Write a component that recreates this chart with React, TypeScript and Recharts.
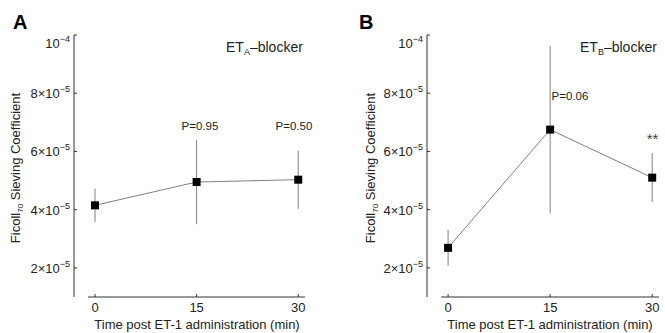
import { ComposedChart, Line, XAxis, YAxis, ErrorBar, ReferenceLine } from 'recharts';

const timePoints = [0, 15, 30];
const etaMean = [4.15e-5, 4.95e-5, 5.03e-5];
const etaErr = [0.57e-5, 1.45e-5, 1.0e-5];
const etbMean = [2.69e-5, 6.75e-5, 5.1e-5];
const etbErr = [0.62e-5, 2.88e-5, 0.84e-5];

const xTicks = [0, 15, 30];
const yTicks = [2e-5, 4e-5, 6e-5, 8e-5, 1e-4];
const yTickMantissa = ['2×10', '4×10', '6×10', '8×10', '10'];
const yTickExponent = ['−5', '−5', '−5', '−5', '−4'];

const FONT = '"Liberation Sans", Arial, Helvetica, sans-serif';
const AXIS = '#333333';
const GREY = '#808080';

const etaData = timePoints.map((t, i) => ({ t, mean: etaMean[i], err: etaErr[i] }));
const etbData = timePoints.map((t, i) => ({ t, mean: etbMean[i], err: etbErr[i] }));

function XTick(props: any) {
  const { x, y, payload } = props;
  return (
    <g>
      <line x1={x} y1={y} x2={x} y2={y - 3} stroke={AXIS} />
      <text x={x} y={y + 15} textAnchor="middle" fontSize={13} fontFamily={FONT} fill="#222">
        {payload.value}
      </text>
    </g>
  );
}

function YTick(props: any) {
  const { x, y, payload } = props;
  const i = yTicks.indexOf(payload.value);
  // top label sits a little lower than its tick, as in the original
  const shift = i === yTicks.length - 1 ? 8 : 0;
  return (
    <g>
      <line x1={x} y1={y} x2={x + 3} y2={y} stroke={AXIS} />
      <text x={x - 4} y={y + 5 + shift} textAnchor="end" fontSize={13} fontFamily={FONT} fill="#222">
        {yTickMantissa[i]}
        <tspan fontSize={9} dy={-6}>{yTickExponent[i]}</tspan>
      </text>
    </g>
  );
}

function SquareDot(props: any) {
  const { cx, cy } = props;
  if (cx == null || cy == null) return null;
  return <rect x={cx - 4} y={cy - 4} width={8} height={8} fill="#000" />;
}

function Panel({ data, width, yWidth, right, letter, letterX, labelX, titleX, xTitleX, sub, children }: any) {
  return (
    <ComposedChart width={width} height={333} data={data} margin={{ top: 35, right, left: 0, bottom: 0 }}>
      <XAxis
        dataKey="t"
        type="number"
        domain={[-3.1, 31]}
        ticks={xTicks}
        axisLine={false}
        tickLine={false}
        tickSize={0}
        tickMargin={0}
        height={36}
        tick={<XTick />}
        allowDataOverflow
      />
      <YAxis
        type="number"
        domain={[1e-5, 1e-4]}
        ticks={yTicks}
        width={yWidth}
        axisLine={{ stroke: AXIS }}
        tickLine={false}
        tickSize={0}
        tickMargin={0}
        tick={<YTick />}
        allowDataOverflow
      />
      <ReferenceLine segment={[{ x: -1.03, y: 1e-5 }, { x: 31, y: 1e-5 }]} stroke={AXIS} />
      <Line
        dataKey="mean"
        type="linear"
        stroke={GREY}
        strokeWidth={1}
        dot={<SquareDot />}
        activeDot={false}
        isAnimationActive={false}
      >
        <ErrorBar dataKey="err" direction="y" width={0} stroke={GREY} strokeWidth={1} />
      </Line>
      <text x={letterX} y={29} fontSize={20} fontWeight="bold" fontFamily={FONT} fill="#000">
        {letter}
      </text>
      <text
        x={labelX}
        y={168}
        transform={`rotate(-90 ${labelX} 168)`}
        textAnchor="middle"
        fontSize={13}
        fontFamily={FONT}
        fill="#222"
      >
        Ficoll
        <tspan fontSize={8} dy={3}>70</tspan>
        <tspan dy={-3}> Sieving Coefficient</tspan>
      </text>
      <text x={xTitleX} y={329} textAnchor="middle" fontSize={13} fontFamily={FONT} fill="#222">
        Time post ET-1 administration (min)
      </text>
      <text x={titleX} y={52} fontSize={14} fontFamily={FONT} fill="#222">
        ET
        <tspan fontSize={9} dy={3}>{sub}</tspan>
        <tspan dy={-3}>–blocker</tspan>
      </text>
      {children}
    </ComposedChart>
  );
}

export default function App() {
  return (
    <div style={{ position: 'absolute', left: 0, top: 0, width: 665, height: 333, display: 'flex', background: '#fff' }}>
      <Panel
        data={etaData}
        width={333}
        yWidth={74}
        right={28}
        letter="A"
        letterX={13}
        labelX={19.5}
        titleX={226}
        xTitleX={197}
        sub="A"
      >
        <text x={200} y={130} textAnchor="middle" fontSize={11.5} fontFamily={FONT} fill="#222">P=0.95</text>
        <text x={294} y={130} textAnchor="middle" fontSize={11.5} fontFamily={FONT} fill="#222">P=0.50</text>
      </Panel>
      <Panel
        data={etbData}
        width={332}
        yWidth={94}
        right={6}
        letter="B"
        letterX={26}
        labelX={41.5}
        titleX={247}
        xTitleX={217}
        sub="B"
      >
        <text x={237} y={100} textAnchor="middle" fontSize={11.5} fontFamily={FONT} fill="#222">P=0.06</text>
        <text x={319.5} y={144} textAnchor="middle" fontSize={15} fontFamily={FONT} fill="#444">**</text>
      </Panel>
    </div>
  );
}
